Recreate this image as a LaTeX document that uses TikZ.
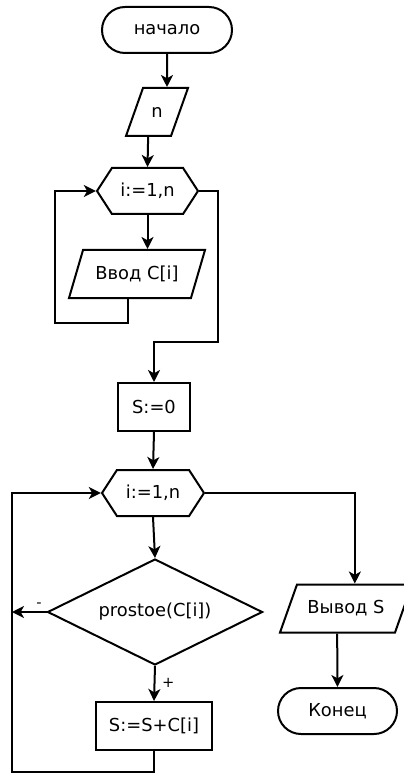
\documentclass[tikz,border=0pt]{standalone}
\usepackage{fontspec}
\setmainfont{DejaVu Sans}
\usetikzlibrary{arrows.meta,calc,shapes.geometric,shapes.misc,shapes.symbols}

\begin{document}
\begin{tikzpicture}[x=0.75pt,y=-0.75pt,line width=1.5pt,
  font=\fontsize{13.4}{15}\selectfont,
  arr/.style={-{Stealth[length=9pt,width=9pt,inset=2.5pt]}},
  term/.style={draw,rounded rectangle,minimum height=34.5pt,inner sep=0pt},
  io/.style={draw,trapezium,trapezium stretches body,text height=10pt,text depth=2pt,
    inner xsep=0pt,inner ysep=12pt},
  loopbox/.style={draw,signal,signal to=west and east,signal pointer angle=114,
    minimum height=34.5pt,inner sep=0pt},
  act/.style={draw,rectangle,minimum height=36pt,inner sep=0pt},
  cond/.style={draw,diamond,aspect=2.03,minimum width=161.25pt,minimum height=79.5pt,
    inner sep=0pt},
  branchlabel/.style={font=\fontsize{11}{12}\selectfont,inner sep=0pt}]
  \useasboundingbox (0,0) rectangle (403,773);

  % blocks
  \node[term,minimum width=97.5pt] (start) at (167,30) {начало};
  \node[io,trapezium left angle=70.5,trapezium right angle=109.5,
    minimum width=46.5pt] (nIn) at (157,112) {n};
  \node[loopbox,minimum width=75.75pt] (for1) at (147.5,191) {i:=1,n};
  \node[io,trapezium left angle=73.7,trapezium right angle=106.3,
    minimum width=102pt] (readC) at (137,274) {Ввод C[i]};
  \node[act,minimum width=54pt] (sInit) at (154,407) {S:=0};
  \node[loopbox,minimum width=76.5pt] (for2) at (153,493) {i:=1,n};
  \node[cond] (check) at (155,612) {prostoe(C[i])};
  \node[act,minimum width=87pt] (addS) at (154,726) {S:=S+C[i]};
  \node[io,trapezium left angle=70.5,trapezium right angle=109.5,
    minimum width=99pt] (outS) at (346,608.5) {Вывод S};
  \node[term,minimum width=89.25pt] (stop) at (337.5,711) {Конец};

  % bend points
  \coordinate (back1) at (55,323);
  \coordinate (exit1) at (218,342);
  \coordinate (back2) at (12,772);

  % connectors
  \draw[arr] (start) -- (start |- nIn.north);
  \draw[arr] (nIn.bottom side) -- (for1.north);
  \draw[arr] (for1.south) -- (for1 |- readC.north);
  \draw[arr] ($(readC.south)+(-9,0)$) |- (back1) |- (for1.west);
  \draw[arr] (for1.east) -| (exit1) -| (sInit.north);
  \draw[arr] (sInit.south) -- (for2.north);
  \draw[arr] (for2.south) -- (check.north);
  \draw[arr] (for2.east) -| (outS.top side);
  \draw[arr] (outS.bottom side) -- (stop.north);
  \draw[arr] (check.west) -- (check.west -| back2)
    node[branchlabel,above=3pt,pos=0.22] (minus) {-};
  \draw[arr] (check.south) -- (addS.north)
    node[branchlabel,right=5pt,pos=0.47] (plus) {+};
  \draw[arr] (addS.south) |- (back2) |- (for2.west);
\end{tikzpicture}
\end{document}
